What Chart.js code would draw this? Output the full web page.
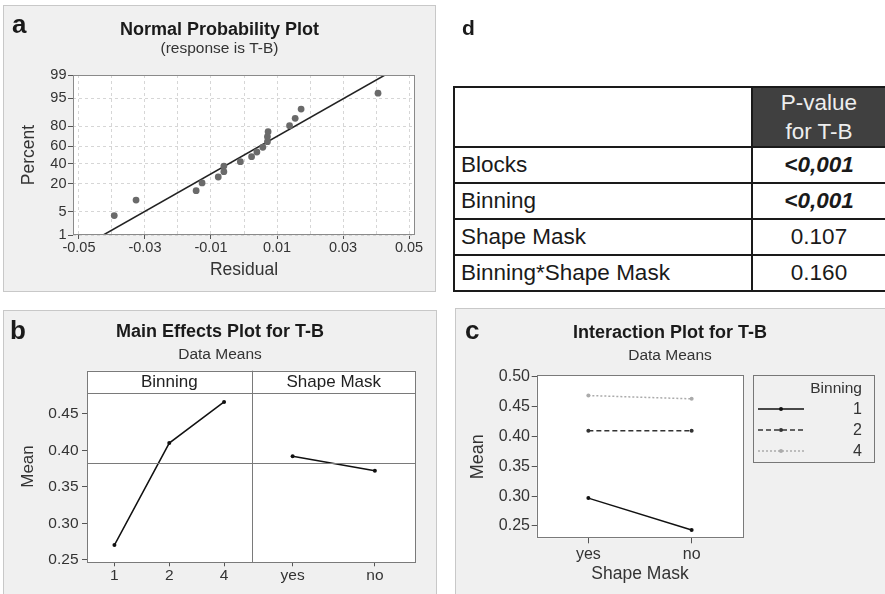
<!DOCTYPE html>
<html>
<head>
<meta charset="utf-8">
<title>T-B analysis</title>
<script src="https://cdn.jsdelivr.net/npm/chart.js@4.4.1/dist/chart.umd.min.js"></script>
<style>
  html, body { margin: 0; padding: 0; background: #fff; }
  body { width: 885px; height: 594px; position: relative; overflow: hidden;
         font-family: "Liberation Sans", Arial, sans-serif; color: #1a1a1a; }
  .panel { position: absolute; box-sizing: border-box; background: #f0f0f0; border: 1px solid #c8c8c8; }
  canvas { position: absolute; }
  .tag { position: absolute; font-weight: bold; font-size: 26px; line-height: 26px; color: #1a1a1a; }
  .legend { position: absolute; box-sizing: border-box; border: 1px solid #777; }
  .legend .lg-title { position: absolute; right: 12px; top: 4px; font-size: 15.5px; line-height: 16px; color: #333; }
  .legend .lg-row { position: absolute; left: 0; right: 0; height: 16px; }
  .legend .lg-row svg { position: absolute; left: 4px; top: 0; }
  .legend .lg-row span { position: absolute; right: 12px; top: 0; font-size: 16px; line-height: 16px; color: #333; }
  #pvals { position: absolute; left: 453px; top: 86px; width: 432px; border-collapse: collapse;
           table-layout: fixed; font-size: 22.5px; color: #1a1a1a; background: #fff; }
  #pvals td, #pvals th { border: 2px solid #1a1a1a; padding: 0 6px; font-weight: normal; white-space: nowrap; }
  #pvals th.dark { background: #404040; color: #eee; line-height: 29px; text-align: center; }
  #pvals td.val { text-align: center; }
  #pvals td.sig { font-weight: bold; font-style: italic; }
</style>
</head>
<body>

<div class="panel" style="left:3px;top:5px;width:433px;height:287px"></div>
<div class="panel" style="left:3px;top:310px;width:434px;height:300px"></div>
<div class="panel" style="left:455px;top:308px;width:432px;height:300px"></div>

<canvas id="chartA" width="433" height="287" style="left:3px;top:5px"></canvas>
<canvas id="chartB" width="434" height="284" style="left:3px;top:310px"></canvas>
<canvas id="chartC" width="430" height="286" style="left:455px;top:308px"></canvas>

<div class="legend" id="legendC" style="left:753px;top:375px;width:122px;height:88px">
  <div class="lg-title">Binning</div>
</div>

<table id="pvals">
  <colgroup><col style="width:298px"><col style="width:134px"></colgroup>
  <tbody id="pvalBody"></tbody>
</table>

<div class="tag" style="left:12px;top:11px">a</div>
<div class="tag" style="left:10px;top:317px">b</div>
<div class="tag" style="left:465px;top:317px">c</div>
<div class="tag" style="left:462px;top:17px;font-size:21px;line-height:21px">d</div>

<script>
// --- Data ---

// (a) normal probability plot of residuals
const RESIDUALS = [-0.0393, -0.0327, -0.0145, -0.0127, -0.0078, -0.0061, -0.0061, -0.0011, 0.0023,
                   0.0039, 0.0057, 0.0071, 0.0071, 0.0073, 0.0138, 0.0155, 0.0173, 0.0406];
const PERCENTS = [3.9, 9.5, 15.0, 20.8, 26.1, 31.4, 37.4, 42.3, 48.0,
                  53.5, 58.9, 65.1, 70.3, 75.1, 80.3, 85.7, 90.9, 96.4];
const FIT_RESIDUALS = [-0.0426, 0.0427];
const FIT_PERCENTS = [1, 99];
const PERCENT_TICKS = [1, 5, 20, 40, 60, 80, 95, 99];

// (b) main effects
const BINNING_LEVELS = ['1', '2', '4'];
const BINNING_MEANS = [0.270, 0.410, 0.4665];
const MASK_LEVELS = ['yes', 'no'];
const MASK_MEANS = [0.392, 0.372];

// (c) interaction, one series per binning level, over MASK_LEVELS
const MEANS_BIN1 = [0.2967, 0.2433];
const MEANS_BIN2 = [0.4094, 0.4094];
const MEANS_BIN4 = [0.4684, 0.4629];

// (d) p-values table
const TERMS = ['Blocks', 'Binning', 'Shape Mask', 'Binning*Shape Mask'];
const P_VALUES = ['<0,001', '<0,001', '0.107', '0.160'];
const SIGNIFICANT = [true, true, false, false];

// --- Defaults ---
const FONT = '"Liberation Sans", Arial, sans-serif';
Chart.defaults.font.family = FONT;
Chart.defaults.color = '#333';
Chart.defaults.animation = false;
Chart.defaults.plugins.legend.display = false;
Chart.defaults.plugins.tooltip.enabled = false;

// inverse normal CDF (Acklam)
function probit(p) {
    const a = [-39.69683028665376, 220.9460984245205, -275.9285104469687, 138.3577518672690, -30.66479806614716, 2.506628277459239];
    const b = [-54.47609879822406, 161.5858368580409, -155.6989798598866, 66.80131188771972, -13.28068155288572];
    const c = [-0.007784894002430293, -0.3223964580411365, -2.400758277161838, -2.549732539343734, 4.374664141464968, 2.938163982698783];
    const d = [0.007784695709041462, 0.3224671290700398, 2.445134137142996, 3.754408661907416];
    const lo = 0.02425;
    if (p < lo) {
        const q = Math.sqrt(-2 * Math.log(p));
        return (((((c[0]*q+c[1])*q+c[2])*q+c[3])*q+c[4])*q+c[5]) / ((((d[0]*q+d[1])*q+d[2])*q+d[3])*q+1);
    }
    if (p > 1 - lo) {
        const q = Math.sqrt(-2 * Math.log(1 - p));
        return -(((((c[0]*q+c[1])*q+c[2])*q+c[3])*q+c[4])*q+c[5]) / ((((d[0]*q+d[1])*q+d[2])*q+d[3])*q+1);
    }
    const q = p - 0.5, r = q * q;
    return (((((a[0]*r+a[1])*r+a[2])*r+a[3])*r+a[4])*r+a[5])*q / (((((b[0]*r+b[1])*r+b[2])*r+b[3])*r+b[4])*r+1);
}

function normCdf(z) {
    // Abramowitz-Stegun erf approximation
    const t = 1 / (1 + 0.3275911 * Math.abs(z) / Math.SQRT2);
    const y = 1 - (((((1.061405429*t - 1.453152027)*t) + 1.421413741)*t - 0.284496736)*t + 0.254829592)*t * Math.exp(-z*z/2);
    return z >= 0 ? (1 + y) / 2 : (1 - y) / 2;
}

// Normal probability axis (percent values, spaced by normal quantiles)
class ProbabilityScale extends Chart.Scale {
    determineDataLimits() {
        this.min = this.options.min;
        this.max = this.options.max;
    }
    buildTicks() {
        return PERCENT_TICKS.map(value => ({ value }));
    }
    getLabelForValue(value) {
        return String(value);
    }
    configure() {
        super.configure();
        this._zMin = probit(this.min / 100);
        this._zMax = probit(this.max / 100);
    }
    getPixelForValue(value) {
        return this.getPixelForDecimal((probit(value / 100) - this._zMin) / (this._zMax - this._zMin));
    }
    getValueForPixel(pixel) {
        const z = this._zMin + this.getDecimalForPixel(pixel) * (this._zMax - this._zMin);
        return 100 * normCdf(z);
    }
}
ProbabilityScale.id = 'probability';
ProbabilityScale.defaults = {};
Chart.register(ProbabilityScale);

// white plot area + thin frame
const plotFrame = {
    id: 'plotFrame',
    beforeDraw(chart) {
        const { ctx, chartArea: a } = chart;
        ctx.save();
        ctx.fillStyle = '#fff';
        ctx.fillRect(a.left, a.top, a.width, a.height);
        ctx.restore();
    },
    afterDraw(chart, args, opts) {
        const { ctx, chartArea: a } = chart;
        ctx.save();
        ctx.strokeStyle = opts.color || '#888';
        ctx.lineWidth = 1;
        ctx.strokeRect(Math.round(a.left) + 0.5, Math.round(a.top) + 0.5,
                       Math.round(a.width) - 1, Math.round(a.height) - 1);
        ctx.restore();
    }
};

// facet header strip, dividers and reference line for the main effects plot
const facetStrip = {
    id: 'facetStrip',
    afterDraw(chart, args, opts) {
        const { ctx, chartArea: a, scales } = chart;
        const line = (x1, y1, x2, y2) => {
            ctx.beginPath();
            ctx.moveTo(x1, y1);
            ctx.lineTo(x2, y2);
            ctx.stroke();
        };
        const stripBottom = Math.round(a.top + opts.height) + 0.5;
        ctx.save();
        ctx.strokeStyle = opts.color;
        ctx.lineWidth = 1;
        line(a.left, stripBottom, a.right, stripBottom);
        opts.axes.slice(1).forEach(id => {
            const x = Math.round(scales[id].left) + 0.5;
            line(x, a.top, x, a.bottom);
        });
        const ym = Math.round(scales.y.getPixelForValue(opts.reference)) + 0.5;
        line(a.left, ym, a.right, ym);

        ctx.fillStyle = '#222';
        ctx.font = '17px ' + FONT;
        ctx.textAlign = 'center';
        ctx.textBaseline = 'middle';
        opts.axes.forEach((id, i) => {
            const s = scales[id];
            ctx.fillText(opts.labels[i], (s.left + s.right) / 2, a.top + opts.height / 2 + 0.5);
        });
        ctx.restore();
    }
};

function fixedWidth(w) { return s => { s.width = w; }; }
function fixedHeight(h) { return s => { s.height = h; }; }
const padAxis = w => ({
    type: 'linear', position: 'right', display: true,
    grid: { display: false }, ticks: { display: false }, border: { display: false },
    afterFit: fixedWidth(w)
});
const titleOpts = (text, top) => ({
    display: true, text, color: '#1a1a1a',
    font: { size: 18, weight: 'bold', lineHeight: 1 },
    padding: { top, bottom: 0 }
});
const subtitleOpts = (text, top, bottom) => ({
    display: true, text, color: '#333',
    font: { size: 15.5, lineHeight: 1 },
    padding: { top, bottom }
});

// --- (a) Normal Probability Plot ---
new Chart(document.getElementById('chartA'), {
    type: 'scatter',
    data: {
        datasets: [{
            data: RESIDUALS.map((r, i) => ({ x: r, y: PERCENTS[i] })),
            xAxisID: 'x', yAxisID: 'y',
            pointRadius: 3.4,
            pointBackgroundColor: '#6a6a6a',
            pointBorderWidth: 0
        }, {
            type: 'line',
            data: FIT_RESIDUALS.map((r, i) => ({ x: r, y: FIT_PERCENTS[i] })),
            xAxisID: 'x', yAxisID: 'y',
            borderColor: '#222', borderWidth: 1.5,
            pointRadius: 0, fill: false
        }]
    },
    options: {
        responsive: false,
        layout: { padding: 0 },
        scales: {
            x: {
                type: 'linear', position: 'bottom',
                min: -0.0518, max: 0.0518,
                afterFit: fixedHeight(57),
                ticks: {
                    stepSize: 0.01, includeBounds: false, autoSkip: false, maxRotation: 0,
                    padding: 0, font: { size: 14.5 },
                    callback: v => Math.abs(Math.round(v * 100)) % 2 === 1 ? v.toFixed(2) : ''
                },
                grid: {
                    color: '#d6d6d6', tickLength: 4,
                    tickColor: c => (c.tick && Math.abs(Math.round(c.tick.value * 100)) % 2 === 1) ? '#555' : 'rgba(0,0,0,0)'
                },
                border: { display: false, dash: [3, 3] },
                title: { display: true, text: 'Residual', color: '#333', font: { size: 17.5 }, padding: { top: 0, bottom: 11 } }
            },
            y: {
                type: 'probability', position: 'left',
                min: 1, max: 99,
                afterFit: fixedWidth(70),
                ticks: { autoSkip: false, padding: 1.5, font: { size: 14.5 } },
                grid: { color: '#d6d6d6', tickLength: 5, tickColor: '#555' },
                border: { display: false, dash: [3, 3] },
                title: { display: true, text: 'Percent', color: '#333', font: { size: 17.5 }, padding: { top: 15.5, bottom: 0 } }
            },
            pad: padAxis(21)
        },
        plugins: {
            title: titleOpts('Normal Probability Plot', 16.5),
            subtitle: subtitleOpts('(response is T-B)', 1.25, 18.75),
            plotFrame: { color: '#8a8a8a' }
        }
    },
    plugins: [plotFrame]
});

// --- (b) Main Effects Plot ---
const grandMean = BINNING_MEANS.reduce((s, v) => s + v, 0) / BINNING_MEANS.length;
const effectAxis = labels => ({
    type: 'category', labels, position: 'bottom', offset: true,
    stack: 'facets', stackWeight: 1,
    afterFit: fixedHeight(31.7),
    ticks: { padding: 0, font: { size: 15.5 }, maxRotation: 0 },
    grid: { display: true, drawOnChartArea: false, tickLength: 4, tickColor: '#555' },
    border: { display: false }
});
new Chart(document.getElementById('chartB'), {
    type: 'line',
    data: {
        datasets: [{
            label: 'Binning', data: BINNING_MEANS, xAxisID: 'xBin', yAxisID: 'y'
        }, {
            label: 'Shape Mask', data: MASK_MEANS, xAxisID: 'xMask', yAxisID: 'y'
        }].map(ds => Object.assign(ds, {
            borderColor: '#111', borderWidth: 1.5,
            pointRadius: 2, pointBackgroundColor: '#111', pointBorderWidth: 0
        }))
    },
    options: {
        responsive: false,
        layout: { padding: 0 },
        scales: {
            y: {
                type: 'linear', position: 'left',
                min: 0.2464, max: 0.5094,
                afterFit: fixedWidth(84),
                afterBuildTicks: s => { s.ticks = s.ticks.filter(t => t.value <= 0.4501); },
                ticks: { stepSize: 0.05, includeBounds: false, padding: 3.5, font: { size: 15.5 },
                         callback: v => v.toFixed(2) },
                grid: { drawOnChartArea: false, tickLength: 5, tickColor: '#555' },
                border: { display: false },
                title: { display: true, text: 'Mean', color: '#333', font: { size: 17 }, padding: { top: 15, bottom: 0 } }
            },
            xBin: effectAxis(BINNING_LEVELS),
            xMask: effectAxis(MASK_LEVELS),
            pad: padAxis(21)
        },
        plugins: {
            title: titleOpts('Main Effects Plot for T-B', 13.5),
            subtitle: subtitleOpts('Data Means', 5.45, 8.25),
            plotFrame: { color: '#7a7a7a' },
            facetStrip: { height: 22.6, color: '#7a7a7a', axes: ['xBin', 'xMask'],
                          labels: ['Binning', 'Shape Mask'], reference: grandMean }
        }
    },
    plugins: [plotFrame, facetStrip]
});

// --- (c) Interaction Plot ---
const interactionSeries = [
    { label: '1', data: MEANS_BIN1, color: '#111', dash: [] },
    { label: '2', data: MEANS_BIN2, color: '#333', dash: [5, 3] },
    { label: '4', data: MEANS_BIN4, color: '#ababab', dash: [2, 2] }
];
new Chart(document.getElementById('chartC'), {
    type: 'line',
    data: {
        labels: MASK_LEVELS,
        datasets: interactionSeries.map(s => ({
            label: s.label, data: s.data, xAxisID: 'x', yAxisID: 'y',
            borderColor: s.color, borderWidth: 1.5, borderDash: s.dash,
            pointRadius: 2, pointBackgroundColor: s.color, pointBorderWidth: 0
        }))
    },
    options: {
        responsive: false,
        layout: { padding: 0 },
        scales: {
            x: {
                type: 'category', position: 'bottom', offset: true,
                afterFit: fixedHeight(55.7),
                ticks: { padding: 2, font: { size: 16 }, maxRotation: 0 },
                grid: { display: true, drawOnChartArea: false, tickLength: 5, tickColor: '#555' },
                border: { display: false },
                title: { display: true, text: 'Shape Mask', color: '#333', font: { size: 17.5 }, padding: { top: 0, bottom: 9.5 } }
            },
            y: {
                type: 'linear', position: 'left',
                min: 0.2294, max: 0.5028,
                afterFit: fixedWidth(81.7),
                ticks: { stepSize: 0.05, includeBounds: false, padding: 1.7, font: { size: 16 },
                         callback: v => v.toFixed(2) },
                grid: { drawOnChartArea: false, tickLength: 5, tickColor: '#555' },
                border: { display: false },
                title: { display: true, text: 'Mean', color: '#333', font: { size: 18 }, padding: { top: 12.5, bottom: 0 } }
            },
            pad: padAxis(141.7)
        },
        plugins: {
            title: titleOpts('Interaction Plot for T-B', 16),
            subtitle: subtitleOpts('Data Means', 5.55, 11.95),
            plotFrame: { color: '#7a7a7a' }
        }
    },
    plugins: [plotFrame]
});

// legend for (c)
const legendEl = document.getElementById('legendC');
interactionSeries.forEach((s, i) => {
    const row = document.createElement('div');
    row.className = 'lg-row';
    row.style.top = (25 + i * 21) + 'px';
    row.innerHTML = `
        <svg width="46" height="16">
            <line x1="0" y1="8" x2="46" y2="8" stroke="${s.color}" stroke-width="1.5"
                  stroke-dasharray="${s.dash.join(' ')}"/>
            <circle cx="23" cy="8" r="2" fill="${s.color}"/>
        </svg>
        <span>${s.label}</span>`;
    legendEl.appendChild(row);
});

// --- (d) p-value table ---
const tbody = document.getElementById('pvalBody');
const head = document.createElement('tr');
head.style.height = '60px';
head.innerHTML = '<th></th><th class="dark">P-value<br>for T-B</th>';
tbody.appendChild(head);
TERMS.forEach((term, i) => {
    const tr = document.createElement('tr');
    tr.style.height = '36px';
    tr.innerHTML = `<td>${term}</td><td class="val${SIGNIFICANT[i] ? ' sig' : ''}">${P_VALUES[i].replace('<', '&lt;')}</td>`;
    tbody.appendChild(tr);
});
</script>
</body>
</html>
